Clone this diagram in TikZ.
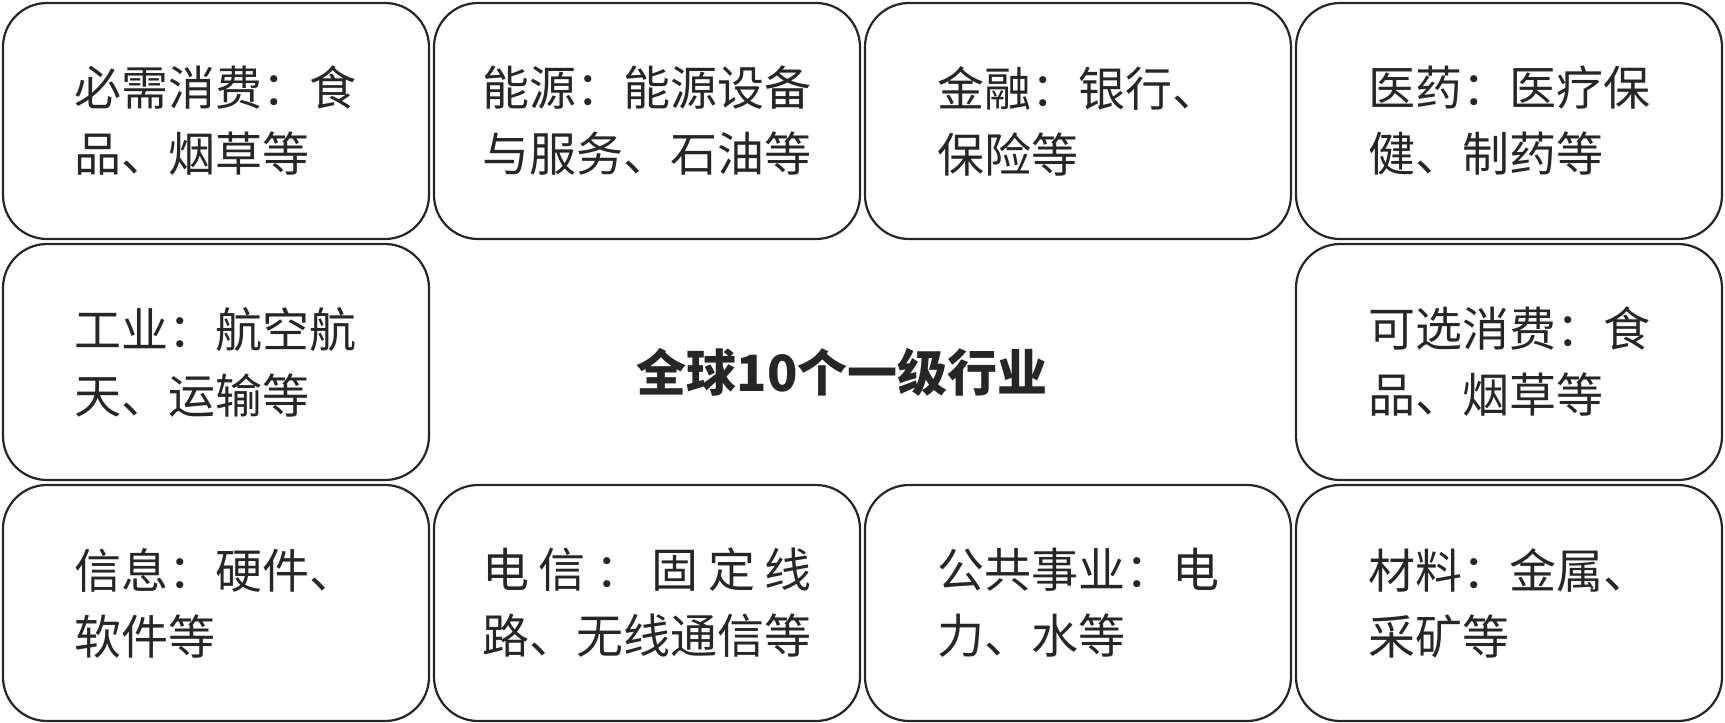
\documentclass[tikz,border=0pt]{standalone}
\usepackage{fontspec}
\setmainfont{Liberation Sans}
\newfontfamily\cjk{Noto Sans CJK SC}
\usetikzlibrary{positioning}
\tikzset{
  sector/.style={draw=black!85, line width=1.1pt, rounded corners=22pt,
    minimum width=213pt, minimum height=118pt, inner sep=0pt,
    align=left, text=black!85, font=\cjk\fontsize{23.5}{33}\selectfont},
  hub/.style={text=black!85, font=\cjk\bfseries\fontsize{25}{30}\selectfont}
}
\begin{document}
\begin{tikzpicture}[x=0.5pt, y=-0.5pt, node distance=1.4pt]
  \useasboundingbox (0,0) rectangle (1725,723);

  % top row
  \node[sector] (staples) at (216,121) {必需消费：食\\品、烟草等};
  \node[sector, right=of staples] (energy) {能源：能源设备\\与服务、石油等};
  \node[sector, right=of energy] (finance) {金融：银行、\\保险等};
  \node[sector, right=of finance] (health) {医药：医疗保\\健、制药等};

  % middle row
  \node[sector, below=of staples] (industry) {工业：航空航\\天、运输等};
  \node[sector, below=of health] (discretionary) {可选消费：食\\品、烟草等};

  % bottom row
  \node[sector, below=of industry] (infotech) {信息：硬件、\\软件等};
  \node[sector, right=of infotech] (telecom)
    {\makebox[7em][s]{电\hfill 信\hfill ：\hfill 固\hfill 定\hfill 线}\\路、无线通信等};
  \node[sector, right=of telecom] (utilities) {公共事业：电\\力、水等};
  \node[sector, right=of utilities] (materials) {材料：金属、\\采矿等};

  % centre label
  \node[hub] (global) at (842,372) {全球10个一级行业};
\end{tikzpicture}
\end{document}
